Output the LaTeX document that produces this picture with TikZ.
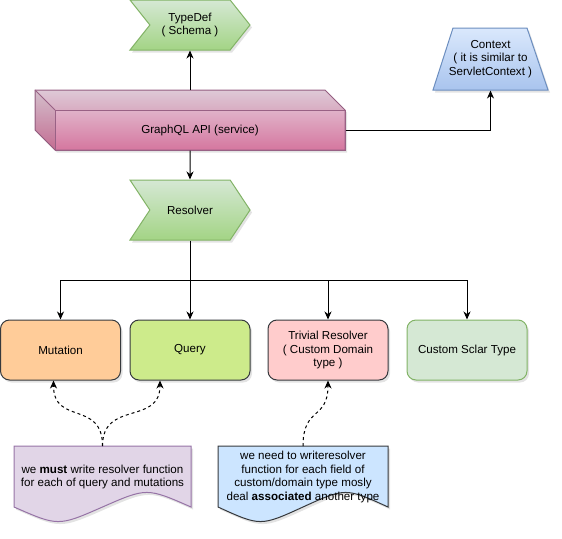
\documentclass[tikz,border=0pt]{standalone}
\usepackage{fontspec}
\setmainfont{Liberation Sans}
\usepackage{tikz}
\usetikzlibrary{arrows.meta}
\usetikzlibrary{calc}
\usetikzlibrary{shapes.symbols}
\usetikzlibrary{shadows}

\definecolor{stepfill}{HTML}{D5E8D4}
\definecolor{stepshade}{HTML}{A3D485}
\definecolor{stepline}{HTML}{82B366}
\definecolor{ctxfill}{HTML}{DAE8FC}
\definecolor{ctxshade}{HTML}{A9C4EE}
\definecolor{ctxline}{HTML}{6C8EBF}
\definecolor{apifill}{HTML}{E6D0DE}
\definecolor{apishade}{HTML}{D5779F}
\definecolor{apiline}{HTML}{996185}
\definecolor{boxline}{HTML}{36393D}
\definecolor{mutfill}{HTML}{FFCC99}
\definecolor{queryfill}{HTML}{CDEB8B}
\definecolor{trivfill}{HTML}{FFCCCC}
\definecolor{noteAfill}{HTML}{E1D5E7}
\definecolor{noteAline}{HTML}{9673A6}
\definecolor{noteBfill}{HTML}{CCE5FF}

\begin{document}
\begin{tikzpicture}[x=1pt, y=-1pt, line width=1pt,
    font=\fontsize{11.6}{13.5}\selectfont,
    softshadow/.style={drop shadow={shadow xshift=2pt, shadow yshift=-2.5pt, opacity=0.22}},
    arr/.style={-{Stealth[length=8pt, width=7pt, inset=2.5pt]}},
    noteline/.style={arr, dash pattern=on 3pt off 3pt},
    stepbox/.style={signal, signal to=east, signal from=west, draw=stepline, top color=stepfill, bottom color=stepshade, minimum width=120pt, align=center, softshadow},
    card/.style={draw=boxline, rounded corners=9pt, minimum width=120pt, minimum height=60pt, align=center, softshadow},
    notebox/.style={minimum height=61pt, align=center}]

    \useasboundingbox (0,0) rectangle (562,538);

    % cube, trapezium and notes drawn first, text nodes on top
    \path[softshadow, draw=apiline, top color=apifill, bottom color=apishade]
        (55,150) -- (35,130) -- (35,90) -- (325,90) -- (345,110) -- (345,150) -- cycle;
    \fill[black, opacity=0.03] (55,110) -- (35,90) -- (325,90) -- (345,110) -- cycle;
    \fill[black, opacity=0.08] (55,110) -- (35,90) -- (35,130) -- (55,150) -- cycle;
    \draw[apiline] (55,110) rectangle (345,150);
    \draw[apiline] (55,110) -- (35,90);

    \path[softshadow, draw=ctxline, top color=ctxfill, bottom color=ctxshade]
        (433,90) -- (548,90) -- (527,28) -- (453,28) -- cycle;

    \path[softshadow, draw=noteAline, fill=noteAfill]
        (14,446) -- (191,446) -- (191,507) .. controls (146.75,487.6) .. (102.5,507)
        .. controls (58.25,526.4) .. (14,507) -- cycle;
    \path[softshadow, draw=boxline, fill=noteBfill]
        (218,446) -- (388,446) -- (388,507) .. controls (345.5,487.6) .. (303,507)
        .. controls (260.5,526.4) .. (218,507) -- cycle;

    \node (typedef) [stepbox, minimum height=50pt, signal pointer angle=103] at (190,25) {TypeDef\\( Schema )};
    \node (api) [minimum width=290pt, minimum height=40pt] at (200,130) {GraphQL API (service)};
    \coordinate (apitop) at (190,90);
    \node (ctx) [minimum width=115pt, minimum height=62pt, align=center] at (490.5,59) {Context\\( it is similar to\\ServletContext )};
    \node (resolver) [stepbox, minimum height=60pt, signal pointer angle=113] at (190,210) {Resolver};
    \coordinate (fork) at (190,280);

    \node (mut) [card, fill=mutfill] at (60.5,350) {Mutation};
    \node (query) [card, fill=queryfill] at (190,350) {Query};
    \node (trivial) [card, fill=trivfill] at (328,350) {Trivial Resolver\\( Custom Domain\\type )};
    \node (scalar) [card, fill=stepfill, draw=stepline] at (467,350) {Custom Sclar Type};

    \node (noteA) [notebox, minimum width=177pt] at (102.5,477) {we \textbf{must} write resolver function\\for each of query and mutations};
    \node (noteB) [notebox, minimum width=170pt] at (303,477) {we need to writeresolver\\function for each field of\\custom/domain type mosly\\deal \textbf{associated} another type};

    \draw[arr] (apitop) -- (typedef.south);
    \draw[arr] (api.east) -| (ctx.south);
    \draw[arr] (api.south -| resolver) -- (resolver);
    \draw (resolver.south) -- (fork);
    \draw[arr] (fork) -| (mut.north);
    \draw[arr] (fork) -- (query.north);
    \draw[arr] (fork) -| (trivial.north);
    \draw[arr] (fork) -| (scalar.north);

    \draw[noteline] (noteA.north) .. controls +(0,-46) and +(0,45) .. ([xshift=-7pt]mut.south);
    \draw[noteline] (noteA.north) .. controls +(0,-46) and +(0,45) .. ([xshift=-30pt]query.south);
    \draw[noteline] (noteB.north) .. controls +(0,-40) and +(0,40) .. (trivial.south);

\end{tikzpicture}
\end{document}
